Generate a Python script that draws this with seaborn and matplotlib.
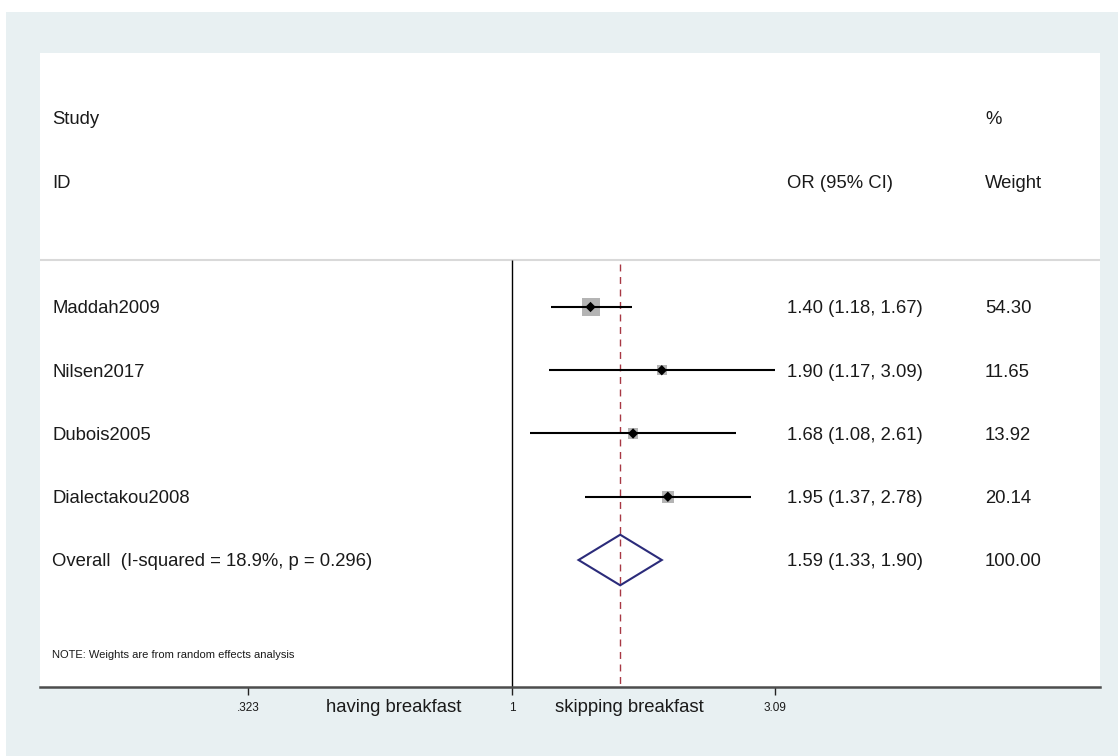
import numpy as np
import pandas as pd
import matplotlib
matplotlib.use("Agg")
import matplotlib.pyplot as plt
import matplotlib.transforms as mtransforms
from matplotlib.patches import Rectangle, Polygon
import seaborn as sns

# ---------------- data ----------------
studies = ["Maddah2009", "Nilsen2017", "Dubois2005", "Dialectakou2008"]
odds_ratio = [1.40, 1.90, 1.68, 1.95]
ci_low = [1.18, 1.17, 1.08, 1.37]
ci_high = [1.67, 3.09, 2.61, 2.78]
weights = [54.30, 11.65, 13.92, 20.14]
overall_label = "Overall  (I-squared = 18.9%, p = 0.296)"
overall_or = 1.59
overall_low = 1.33
overall_high = 1.90
overall_weight = 100.00
tick_values = [0.323, 1, 3.09]
tick_labels = [".323", "1", "3.09"]
left_label = "having breakfast"
right_label = "skipping breakfast"
note = "NOTE: Weights are from random effects analysis"

# ---------------- style ----------------
sns.set_theme(style="white")
plt.rcParams["font.family"] = ["Liberation Sans", "DejaVu Sans"]
TXT = "#1a1a1a"
W, H = 1118, 756

fig = plt.figure(figsize=(W / 100, H / 100), dpi=100, facecolor="white")
# outer light panel
fig.patches.append(Rectangle((6 / W, 0), 1 - 6 / W, 1 - 12 / H, transform=fig.transFigure,
                             facecolor="#e8f0f2", edgecolor="none", zorder=-10))

ax = fig.add_axes([40 / W, 1 - 687 / H, (1100 - 40) / W, (687 - 53) / H])
ax.set_zorder(1)
ax.set_facecolor("white")

# x scale: log OR, calibrated so .323 -> px 248, 1 -> px 512, 3.09 -> px 775
k = (775 - 248) / (np.log(3.09) - np.log(0.323))
ax.set_xscale("log")
ax.set_xlim(np.exp((40 - 512) / k), np.exp((1100 - 512) / k))
# y: row index; row 0 at px 307, spacing 63.25 px
row_px0, row_dy = 307, 63.25
ax.set_ylim((687 - row_px0) / row_dy, (53 - row_px0) / row_dy)

n = len(studies)
rows = np.arange(n)
df = pd.DataFrame({"study": studies, "or": odds_ratio, "lo": ci_low, "hi": ci_high,
                   "w": weights, "row": rows})

header_row = (260 - row_px0) / row_dy
# header separator
ax.axhline(header_row, color="#d9d9d9", lw=1.5, zorder=1)
# null line
ax.vlines(1, header_row, ax.get_ylim()[0], color="black", lw=1, zorder=2)
# overall dashed line
ax.vlines(overall_or, (264 - row_px0) / row_dy, ax.get_ylim()[0], color="#a83844",
          lw=1, linestyles=(0, (5, 4)), zorder=2)

# weight squares
sns.scatterplot(data=df, x="or", y="row", size="w", sizes=(52, 168),
                marker="s", color="#b4b4b4", edgecolor="none", legend=False, ax=ax, zorder=3)
# CI lines
ax.hlines(df["row"], df["lo"], df["hi"], color="black", lw=1.5, zorder=4)
# point estimates
sns.scatterplot(data=df, x="or", y="row", marker="D", s=28, color="black",
                edgecolor="none", legend=False, ax=ax, zorder=5)

# overall diamond
orow = n
dh = 0.4
diamond = Polygon([(overall_low, orow), (overall_or, orow - dh), (overall_high, orow),
                   (overall_or, orow + dh)], closed=True, fill=False,
                  edgecolor="#2b2b7a", lw=1.5, zorder=5)
ax.add_patch(diamond)

# text columns
tr = mtransforms.blended_transform_factory(ax.transAxes, ax.transData)
xs_id = (52 - 40) / 1060
xs_or = (787 - 40) / 1060
xs_w = (985 - 40) / 1060
fs = 13.3
dy = 2 / row_dy  # small baseline nudge
r_study = (118 - row_px0) / row_dy + dy
r_id = (182 - row_px0) / row_dy + dy
ax.text(xs_id, r_study, "Study", transform=tr, fontsize=fs, va="center", color=TXT)
ax.text(xs_id, r_id, "ID", transform=tr, fontsize=fs, va="center", color=TXT)
ax.text(xs_or, r_id, "OR (95% CI)", transform=tr, fontsize=fs, va="center", color=TXT)
ax.text(xs_w, r_study, "%", transform=tr, fontsize=fs, va="center", color=TXT)
ax.text(xs_w, r_id, "Weight", transform=tr, fontsize=fs, va="center", color=TXT)

for i in range(n):
    ax.text(xs_id, rows[i] + dy, studies[i], transform=tr, fontsize=fs, va="center", color=TXT)
    ax.text(xs_or, rows[i] + dy, f"{odds_ratio[i]:.2f} ({ci_low[i]:.2f}, {ci_high[i]:.2f})",
            transform=tr, fontsize=fs, va="center", color=TXT)
    ax.text(xs_w, rows[i] + dy, f"{weights[i]:.2f}", transform=tr, fontsize=fs, va="center", color=TXT)

ax.text(xs_id, orow + dy, overall_label, transform=tr, fontsize=fs, va="center", color=TXT)
ax.text(xs_or, orow + dy, f"{overall_or:.2f} ({overall_low:.2f}, {overall_high:.2f})",
        transform=tr, fontsize=fs, va="center", color=TXT)
ax.text(xs_w, orow + dy, f"{overall_weight:.2f}", transform=tr, fontsize=fs, va="center", color=TXT)

ax.text(xs_id, (655 - row_px0) / row_dy, note, transform=tr, fontsize=8, va="center", color=TXT)

# axes styling
for s in ["top", "left", "right"]:
    ax.spines[s].set_visible(False)
ax.spines["bottom"].set_color("#4d4d4d")
ax.spines["bottom"].set_linewidth(1.8)
ax.set_yticks([])
ax.set_xticks(tick_values)
ax.set_xticklabels(tick_labels)
ax.xaxis.set_minor_locator(matplotlib.ticker.NullLocator())
ax.tick_params(axis="x", which="major", bottom=True, direction="out", length=6, width=1,
               color="#222222", labelsize=8.5, pad=5, labelcolor=TXT)
ax.set_xlabel("")
ax.set_ylabel("")

fig.text(394 / W, 1 - 708 / H, left_label, ha="center", va="center", fontsize=fs, color=TXT)
fig.text(629 / W, 1 - 708 / H, right_label, ha="center", va="center", fontsize=fs, color=TXT)

fig.savefig("out.png", dpi=100, facecolor=fig.get_facecolor())
